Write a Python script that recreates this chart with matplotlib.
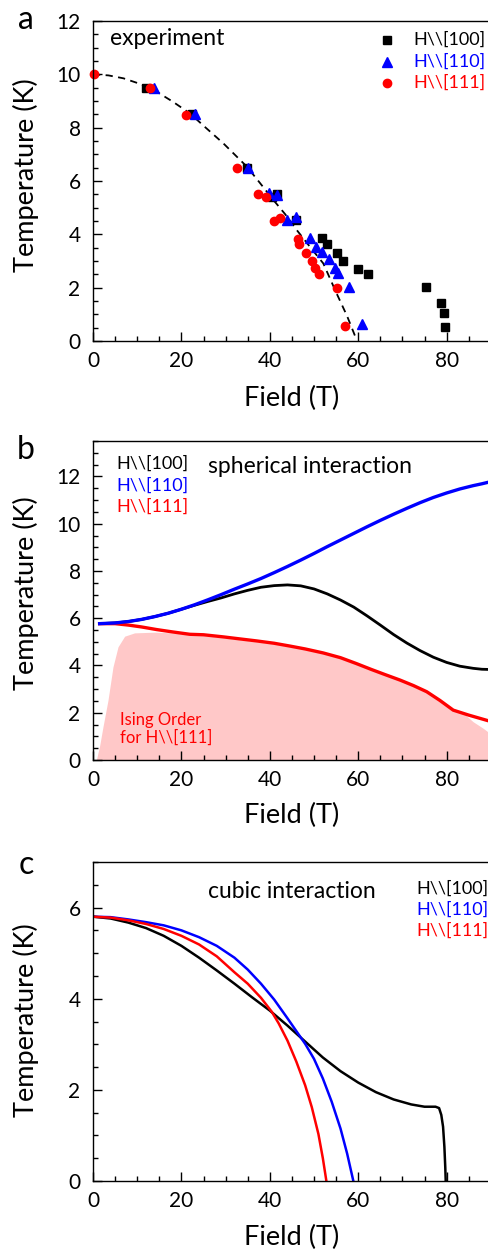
import numpy as np
import matplotlib
matplotlib.use('Agg')
import matplotlib.pyplot as plt
from matplotlib.ticker import MultipleLocator

plt.rcParams['font.family'] = ['Lato', 'DejaVu Sans']

# =============================================================================
# Panel a: experimento (puntos leídos de la figura)
# =============================================================================
sq_campo = [12.0, 22.3, 34.8, 40.6, 41.7, 46.0, 51.9, 53.0, 55.3, 56.6, 60.0, 62.3, 75.4, 78.8, 79.3, 79.7]
sq_temp = [9.5, 8.5, 6.5, 5.4, 5.5, 4.55, 3.85, 3.63, 3.29, 3.0, 2.7, 2.5, 2.01, 1.41, 1.04, 0.54]

tri_campo = [13.9, 23.1, 35.0, 39.9, 41.6, 44.0, 45.9, 49.0, 50.4, 51.8, 53.3, 54.8, 55.5, 58.0, 60.8]
tri_temp = [9.5, 8.5, 6.5, 5.54, 5.48, 4.54, 4.64, 3.88, 3.54, 3.35, 3.06, 2.75, 2.56, 2.01, 0.63]

circ_campo = [0.3, 13.0, 21.0, 32.5, 37.4, 39.1, 41.0, 42.3, 46.3, 46.7, 48.3, 49.5, 50.2, 51.1, 55.1, 57.1]
circ_temp = [10.0, 9.48, 8.48, 6.5, 5.5, 5.39, 4.5, 4.6, 3.84, 3.63, 3.29, 3.0, 2.73, 2.51, 1.98, 0.56]

guia_campo = [0, 3.5, 6.9, 10.5, 14.4, 18.0, 21.9, 25.5, 29.5, 32.0, 34.8, 37.8, 40.8,
              43.5, 46.1, 49.0, 52.1, 55.1, 57.5, 59.5]
guia_temp = [10.0, 9.96, 9.85, 9.65, 9.35, 8.98, 8.54, 8.0, 7.41, 7.0, 6.54, 5.92, 5.29,
             4.75, 4.16, 3.55, 2.91, 1.79, 0.93, 0.1]

# =============================================================================
# Panel b: interacción esférica
# =============================================================================
azul_b_campo = [1.5, 5, 8, 11, 14, 17, 20, 23, 26, 29, 32, 35, 38, 41, 44, 47, 50, 53, 56, 59,
                62, 65, 68, 71, 74, 77, 80, 83, 86, 88, 90]
azul_b_temp = [5.77, 5.80, 5.86, 5.95, 6.07, 6.21, 6.38, 6.57, 6.78, 7.00, 7.23, 7.45, 7.68, 7.93,
               8.19, 8.46, 8.74, 9.03, 9.31, 9.59, 9.87, 10.14, 10.40, 10.65, 10.89, 11.11, 11.30,
               11.47, 11.61, 11.69, 11.78]

negro_b_campo = [1.5, 5, 8, 11, 14, 17, 20, 23, 26, 29, 32, 35, 38, 41, 44, 47, 50, 53, 56, 59,
                 62, 65, 68, 71, 74, 77, 80, 83, 86, 88, 90]
negro_b_temp = [5.77, 5.80, 5.86, 5.95, 6.07, 6.21, 6.38, 6.55, 6.71, 6.86, 7.03, 7.18, 7.31, 7.38,
                7.41, 7.37, 7.24, 7.03, 6.77, 6.47, 6.10, 5.71, 5.31, 4.95, 4.63, 4.35, 4.13,
                3.97, 3.88, 3.84, 3.83]

rojo_b_campo = [1.5, 5, 8, 11, 14.4, 18, 21.9, 25, 29.5, 33, 37, 41, 44.6, 48, 52.1, 56, 59.6,
                63, 66, 69.5, 72.5, 75.5, 78.5, 81.5, 85, 90]
rojo_b_temp = [5.77, 5.77, 5.71, 5.63, 5.52, 5.42, 5.32, 5.30, 5.21, 5.13, 5.04, 4.94, 4.82,
               4.70, 4.53, 4.33, 4.08, 3.83, 3.62, 3.38, 3.15, 2.89, 2.52, 2.11, 1.90, 1.63]

ising_campo = [0.75, 1.5, 2.26, 3.39, 4.52, 5.66, 7.16, 9.4, 14, 18, 21.9, 25, 29.5, 33, 37, 41,
               44.6, 48, 52.1, 56, 59.6, 63, 66, 69.5, 72.5, 75.5, 78.5, 81.5, 83.8, 86.0, 88.3, 90]
ising_temp = [0, 0.6, 1.41, 2.53, 3.94, 4.79, 5.24, 5.38, 5.41, 5.38, 5.30, 5.27, 5.18, 5.10, 5.01,
              4.91, 4.79, 4.67, 4.50, 4.30, 4.05, 3.80, 3.59, 3.35, 3.12, 2.86, 2.49, 2.08, 1.98,
              1.62, 1.34, 1.1]

# =============================================================================
# Panel c: interacción cúbica
# =============================================================================
azul_c_campo = [0, 4, 8, 12, 16, 20, 24, 28, 32, 35, 38, 41, 44, 46, 48, 50, 52, 54, 56, 57.5, 58.9]
azul_c_temp = [5.80, 5.79, 5.74, 5.68, 5.61, 5.50, 5.35, 5.16, 4.90, 4.64, 4.33, 3.98, 3.57,
               3.29, 3.01, 2.68, 2.25, 1.74, 1.15, 0.6, 0.0]

rojo_c_campo = [0, 4, 8, 12, 16, 20, 24, 28, 32, 35, 38, 40.4, 42, 44, 46, 48, 49.5, 51, 52, 52.8]
rojo_c_temp = [5.80, 5.78, 5.72, 5.64, 5.53, 5.38, 5.19, 4.93, 4.58, 4.33, 4.02, 3.72, 3.46,
               3.08, 2.62, 2.10, 1.62, 1.03, 0.5, 0.0]

negro_c_campo = [0, 4, 8, 12, 16, 20, 24, 28, 32, 36, 40, 44, 48, 52, 56, 60, 64, 68, 72, 75,
                 77.5, 78.3, 78.8, 79.2, 79.5, 79.7, 79.8]
negro_c_temp = [5.80, 5.76, 5.67, 5.55, 5.38, 5.16, 4.90, 4.62, 4.33, 4.03, 3.74, 3.41, 3.06,
                2.71, 2.41, 2.16, 1.95, 1.79, 1.68, 1.63, 1.63, 1.60, 1.45, 1.19, 0.75, 0.3, 0.0]

etiquetas = [r'H\\[100]', r'H\\[110]', r'H\\[111]']
colores = ['black', 'blue', 'red']

W, H = 489, 1251
fig = plt.figure(figsize=(W / 100, H / 100), dpi=100)


def caja(arriba, abajo, izq=93, der=490.8):
    return [izq / W, 1 - abajo / H, (der - izq) / W, (abajo - arriba) / H]


def estilo(ax, ymax, ymayor):
    ax.set_xlim(0, 90)
    ax.set_ylim(0, ymax)
    ax.xaxis.set_major_locator(MultipleLocator(20))
    ax.xaxis.set_minor_locator(MultipleLocator(5))
    ax.yaxis.set_major_locator(MultipleLocator(ymayor))
    ax.yaxis.set_minor_locator(MultipleLocator(0.5))
    ax.tick_params(which='both', direction='in', top=False, right=False, labelsize=15, width=1)
    ax.tick_params(which='major', length=6.5)
    ax.tick_params(which='minor', length=3.5)
    ax.tick_params(axis='x', pad=7)
    ax.tick_params(axis='y', pad=9)
    ax.spines['right'].set_visible(False)
    for s in ['left', 'bottom', 'top']:
        ax.spines[s].set_linewidth(1)


def texto_px(x, y, s, **kw):
    fig.text(x / W, 1 - y / H, s, **kw)


# --- Panel a ---
ax1 = fig.add_axes(caja(21, 341))
estilo(ax1, 12, 2)
ax1.plot(guia_campo, guia_temp, '--', color='black', lw=1.3, dashes=(4, 3))
ax1.plot(sq_campo, sq_temp, 's', color='black', ms=5.5, clip_on=False)
ax1.plot(tri_campo, tri_temp, '^', color='blue', ms=6.5, clip_on=False)
ax1.plot(circ_campo, circ_temp, 'o', color='red', ms=6, clip_on=False)
ax1.text(3.85, 11.36, 'experiment', fontsize=16.5, va='center', ha='left')
for i, (mk, ms) in enumerate([('s', 5.5), ('^', 6.5), ('o', 6)]):
    yy = [11.29, 10.46, 9.67][i]
    ax1.plot([66.5], [yy], mk, color=colores[i], ms=ms)
    ax1.text(72.4, yy, etiquetas[i], color=colores[i], fontsize=13, va='center', ha='left')

# --- Panel b ---
ax2 = fig.add_axes(caja(441, 760))
estilo(ax2, 13.5, 2)
ax2.fill_between(ising_campo, 0, ising_temp, color='#ffc8c8', lw=0, zorder=0)
ax2.plot(negro_b_campo, negro_b_temp, color='black', lw=2)
ax2.plot(rojo_b_campo, rojo_b_temp, color='red', lw=2.4)
ax2.plot(azul_b_campo, azul_b_temp, color='blue', lw=2.4)
for i, yy in enumerate([12.55, 11.62, 10.73]):
    ax2.text(5.2, yy, etiquetas[i], color=colores[i], fontsize=13, va='center', ha='left')
ax2.text(26.0, 12.42, 'spherical interaction', fontsize=16.5, va='center', ha='left')
ax2.text(6.1, 1.69, 'Ising Order', color='red', fontsize=12, va='center', ha='left')
ax2.text(6.1, 0.93, r'for H\\[111]', color='red', fontsize=12, va='center', ha='left')

# --- Panel c ---
ax3 = fig.add_axes(caja(862, 1181))
estilo(ax3, 7, 2)
ax3.plot(negro_c_campo, negro_c_temp, color='black', lw=1.8)
ax3.plot(azul_c_campo, azul_c_temp, color='blue', lw=1.8)
ax3.plot(rojo_c_campo, rojo_c_temp, color='red', lw=1.8)
ax3.text(26.0, 6.35, 'cubic interaction', fontsize=16.5, va='center', ha='left')
for i, yy in enumerate([6.42, 5.96, 5.49]):
    ax3.text(73.1, yy, etiquetas[i], color=colores[i], fontsize=13, va='center', ha='left')

# --- Etiquetas de ejes y letras de panel ---
for yc in [175, 593, 1020]:
    texto_px(26, yc, 'Temperature (K)', fontsize=19.5, rotation=90, ha='center', va='center')
for yc in [398, 815, 1237]:
    texto_px(292, yc, 'Field (T)', fontsize=19.5, ha='center', va='center')
for letra, yc in [('a', 20), ('b', 450), ('c', 865)]:
    texto_px(26, yc, letra, fontsize=23, ha='center', va='center')

plt.savefig('out.png', dpi=100)
